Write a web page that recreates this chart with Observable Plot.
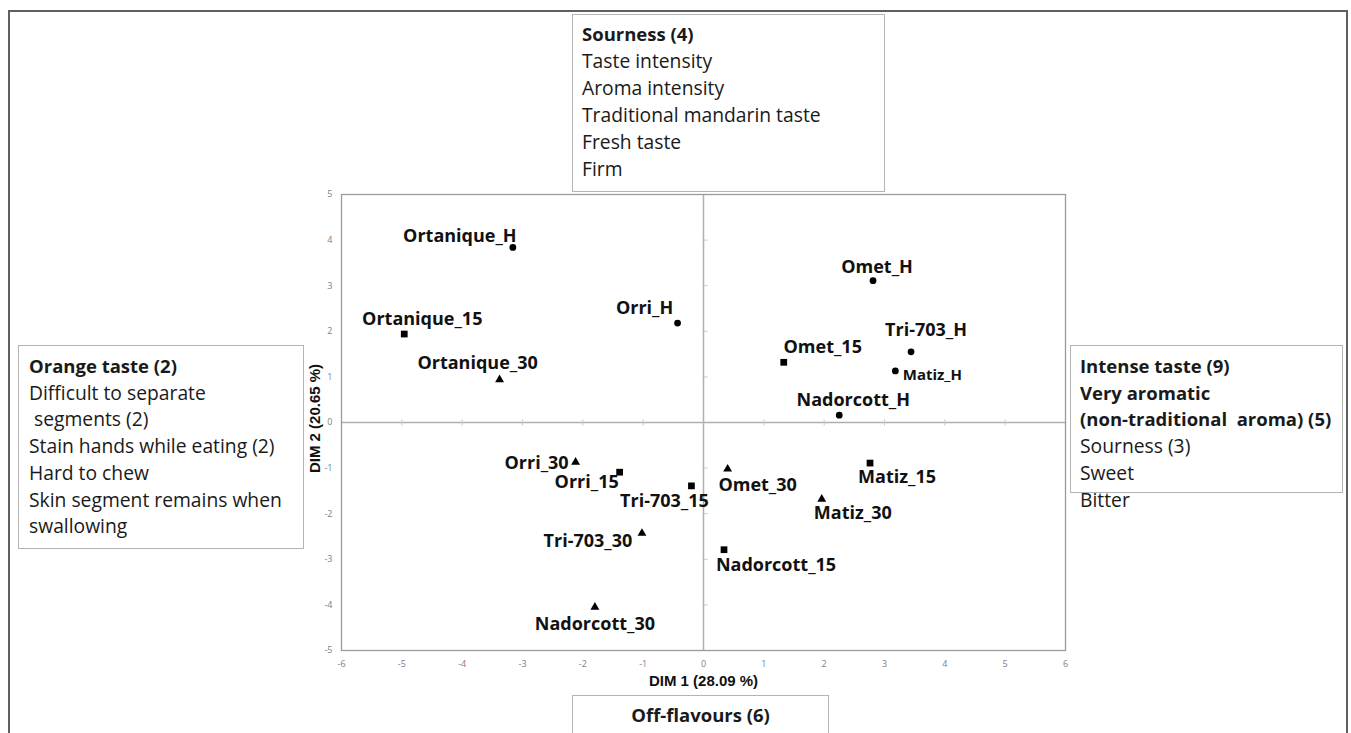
<!DOCTYPE html>
<html>
<head>
<meta charset="utf-8">
<script src="https://cdn.jsdelivr.net/npm/d3@7"></script>
<script src="https://cdn.jsdelivr.net/npm/@observablehq/plot@0.6"></script>
<style>
  html, body { margin: 0; padding: 0; background: #fff; }
  #wrap { position: relative; width: 1351px; height: 733px; overflow: hidden; background: #fff; font-family: "Open Sans", sans-serif; }
  #chart { position: absolute; left: 0; top: 0; }
  .outer { position: absolute; left: 8px; top: 10px; width: 1340px; height: 800px; border: 2px solid #5f5f5f; box-sizing: border-box; }
  .box { position: absolute; background: #fff; border: 1px solid #b4b4b4; box-sizing: border-box; color: #1a1a1a; font-size: 19.3px; white-space: pre; }
  .box .b { font-weight: 700; font-size: 18.5px; }
</style>
</head>
<body>
<div id="wrap">
  <div class="outer"></div>
  <div id="chart"></div>
  <div id="boxes"></div>
</div>
<script>
// ---- data ----
const samples = ["Ortanique_H","Ortanique_15","Ortanique_30","Orri_H","Omet_H","Tri-703_H","Omet_15","Matiz_H","Nadorcott_H",
                 "Orri_30","Orri_15","Tri-703_15","Tri-703_30","Nadorcott_30","Omet_30","Matiz_15","Matiz_30","Nadorcott_15"];
const dim1 = [-3.16,-4.96,-3.38,-0.43,2.81,3.44,1.33,3.18,2.25,-2.12,-1.39,-0.20,-1.02,-1.80,0.40,2.76,1.96,0.34];
const dim2 = [3.84,1.94,0.94,2.18,3.11,1.55,1.32,1.13,0.16,-0.87,-1.09,-1.39,-2.43,-4.05,-1.02,-0.89,-1.68,-2.79];
const storage = ["H","15","30","H","H","H","15","H","H","30","15","15","30","30","30","15","30","15"];
const xTicks = [-6,-5,-4,-3,-2,-1,0,1,2,3,4,5,6];
const yTicks = [-5,-4,-3,-2,-1,0,1,2,3,4,5];
const xTitle = "DIM 1 (28.09 %)";
const yTitle = "DIM 2 (20.65 %)";

const topBox = [["Sourness (4)", true], ["Taste intensity", false], ["Aroma intensity", false], ["Traditional mandarin taste", false], ["Fresh taste", false], ["Firm", false]];
const leftBox = [["Orange taste (2)", true], ["Difficult to separate", false], [" segments (2)", false], ["Stain hands while eating (2)", false], ["Hard to chew", false], ["Skin segment remains when", false], ["swallowing", false]];
const rightBox = [["Intense taste (9)", true], ["Very aromatic", true], ["(non-traditional  aroma) (5)", true], ["Sourness (3)", false], ["Sweet", false], ["Bitter", false]];
const bottomBox = [["Off-flavours (6)", true]];

// ---- label placement (pixel offsets from the point: styling only) ----
const labelPlacement = {
  "Ortanique_H": [-53, -11], "Ortanique_15": [18, -15], "Ortanique_30": [-22, -16], "Orri_H": [-33, -15],
  "Omet_H": [4, -13], "Tri-703_H": [15, -22], "Omet_15": [39, -15], "Matiz_H": [37, 4], "Nadorcott_H": [14, -15],
  "Orri_30": [-39, 1], "Orri_15": [-33, 10], "Tri-703_15": [-27, 15], "Tri-703_30": [-54, 8], "Nadorcott_30": [0, 17],
  "Omet_30": [30, 16], "Matiz_15": [27, 14], "Matiz_30": [31, 14], "Nadorcott_15": [52, 16]
};

const pts = samples.map((s, i) => ({name: s, x: dim1[i], y: dim2[i], storage: storage[i]}));

// custom tick symbols
const vTick = {draw(ctx, size) { const r = Math.sqrt(size / Math.PI); ctx.moveTo(0, -r); ctx.lineTo(0, r); }};
const hTick = {draw(ctx, size) { const r = Math.sqrt(size / Math.PI); ctx.moveTo(0, 0); ctx.lineTo(r, 0); }};

const symbolFor = {"H": "circle", "15": "square", "30": "triangle"};
const rFor = {"H": 3.4, "15": 3.8, "30": 3.3};

const marks = [
  Plot.ruleX([0], {stroke: "#b0b0b0", strokeWidth: 1.5}),
  Plot.ruleY([0], {stroke: "#b0b0b0", strokeWidth: 1.5}),
  Plot.dot(xTicks.filter(d => d !== 0 && Math.abs(d) !== 6), {x: d => d, y: 0, symbol: vTick, r: 3, stroke: "#c8c8c8", strokeWidth: 1}),
  Plot.dot(yTicks.filter(d => d !== 0 && Math.abs(d) !== 5), {x: 0, y: d => d, symbol: hTick, r: 4, stroke: "#c8c8c8", strokeWidth: 1}),
  Plot.frame({stroke: "#9a9a9a", strokeWidth: 1.3}),
  Plot.axisX({ticks: xTicks, tickSize: 0, tickPadding: 10, tickFormat: d => String(d), fontSize: 9, fill: "#808080", label: null}),
  Plot.axisY({ticks: yTicks, tickSize: 0, tickPadding: 9, tickFormat: d => String(d), fontSize: 9, fill: "#808080", label: null}),
  Plot.dot(pts, {x: "x", y: "y", symbol: d => symbolFor[d.storage], r: d => rFor[d.storage], fill: "#000", stroke: "none"}),
  ...pts.map(p => Plot.text([p], {
    x: "x", y: "y", text: "name",
    dx: labelPlacement[p.name][0], dy: labelPlacement[p.name][1],
    fontSize: p.name === "Matiz_H" ? 15 : 18, fontWeight: "bold", fontFamily: "Open Sans", fill: "#111"
  })),
  Plot.text([xTitle], {text: d => d, frameAnchor: "bottom", textAnchor: "middle", dy: 35, fontSize: 15, fontWeight: "bold", fontFamily: "Liberation Sans", fill: "#111"}),
  Plot.text([yTitle], {text: d => d, frameAnchor: "left", textAnchor: "middle", dx: -26, dy: -4, rotate: -90, fontSize: 15, fontWeight: "bold", fontFamily: "Liberation Sans", fill: "#111"})
];

const chart = Plot.plot({
  width: 1351, height: 733,
  marginLeft: 341, marginRight: 286, marginTop: 194, marginBottom: 83,
  x: {domain: [-6, 6]},
  y: {domain: [-5, 5]},
  symbol: {type: "identity"},
  r: {type: "identity"},
  style: {background: "transparent", fontFamily: "Open Sans"},
  marks
});
document.getElementById("chart").appendChild(chart);

// ---- text boxes ----
function makeBox(lines, css, lineHeight, align) {
  const div = document.createElement("div");
  div.className = "box";
  Object.assign(div.style, css);
  div.style.lineHeight = lineHeight + "px";
  div.style.textAlign = align || "left";
  lines.forEach(([t, bold]) => {
    const line = document.createElement("div");
    line.textContent = t;
    if (bold) line.className = "b";
    div.appendChild(line);
  });
  document.getElementById("boxes").appendChild(div);
}
makeBox(topBox, {left: "572px", top: "14px", width: "313px", height: "178px", padding: "5px 0 0 9px"}, 27);
makeBox(leftBox, {left: "18px", top: "345px", width: "286px", height: "204px", padding: "7px 0 0 10px"}, 26.7);
makeBox(rightBox, {left: "1070px", top: "345px", width: "273px", height: "148px", padding: "7px 0 0 9px"}, 26.7);
makeBox(bottomBox, {left: "572px", top: "695px", width: "257px", height: "80px", padding: "5px 0 0 0", fontSize: "19px"}, 27, "center");
</script>
</body>
</html>
